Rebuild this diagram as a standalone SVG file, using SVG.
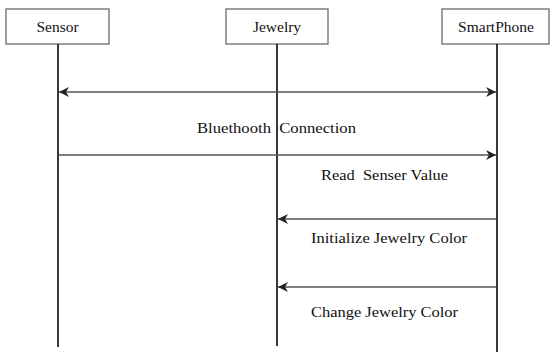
<svg xmlns="http://www.w3.org/2000/svg" width="550" height="352" viewBox="0 0 550 352">
<style>
.box{fill:#fff;stroke:#6a6a6a;stroke-width:1.3}
.life{stroke:#222;stroke-width:1.8}
.msg{stroke:#555;stroke-width:1.3;fill:none}
.t{font-family:'Liberation Serif','Times New Roman','DejaVu Serif',serif;font-size:15.5px;fill:#111}
</style>
<defs>
<marker id="ah" viewBox="0 0 10 10" refX="10" refY="5" markerWidth="10" markerHeight="10" markerUnits="userSpaceOnUse" orient="auto-start-reverse">
<path d="M0,0 L10,5 L0,10 L3,5 Z" fill="#222"/>
</marker>
</defs>
<g id="sensor">
<rect class="box" x="6" y="9" width="103" height="35"/>
<text class="t" x="57.5" y="32" text-anchor="middle">Sensor</text>
</g>
<g id="jewelry">
<rect class="box" x="226" y="9" width="102" height="35"/>
<text class="t" x="277" y="32" text-anchor="middle">Jewelry</text>
</g>
<g id="smartphone">
<rect class="box" x="442" y="9" width="107" height="35"/>
<text class="t" x="496" y="32" text-anchor="middle">SmartPhone</text>
</g>
<g id="connectors">
<line class="life" x1="58" y1="44" x2="58" y2="347"/>
<line class="life" x1="277" y1="44" x2="277" y2="346"/>
<line class="life" x1="497" y1="44" x2="497" y2="352"/>
<line class="msg" x1="59" y1="92" x2="496" y2="92" marker-start="url(#ah)" marker-end="url(#ah)"/>
<line class="msg" x1="59" y1="155" x2="496" y2="155" marker-end="url(#ah)"/>
<line class="msg" x1="496" y1="219" x2="278" y2="219" marker-end="url(#ah)"/>
<line class="msg" x1="496" y1="287" x2="278" y2="287" marker-end="url(#ah)"/>
</g>
<g id="labels">
<text class="t" x="197" y="133" textLength="159" lengthAdjust="spacingAndGlyphs" xml:space="preserve">Bluethooth  Connection</text>
<text class="t" x="321" y="180" textLength="127" lengthAdjust="spacingAndGlyphs" xml:space="preserve">Read  Senser Value</text>
<text class="t" x="311" y="243" textLength="156" lengthAdjust="spacingAndGlyphs">Initialize Jewelry Color</text>
<text class="t" x="311" y="317" textLength="147" lengthAdjust="spacingAndGlyphs">Change Jewelry Color</text>
</g>
</svg>
